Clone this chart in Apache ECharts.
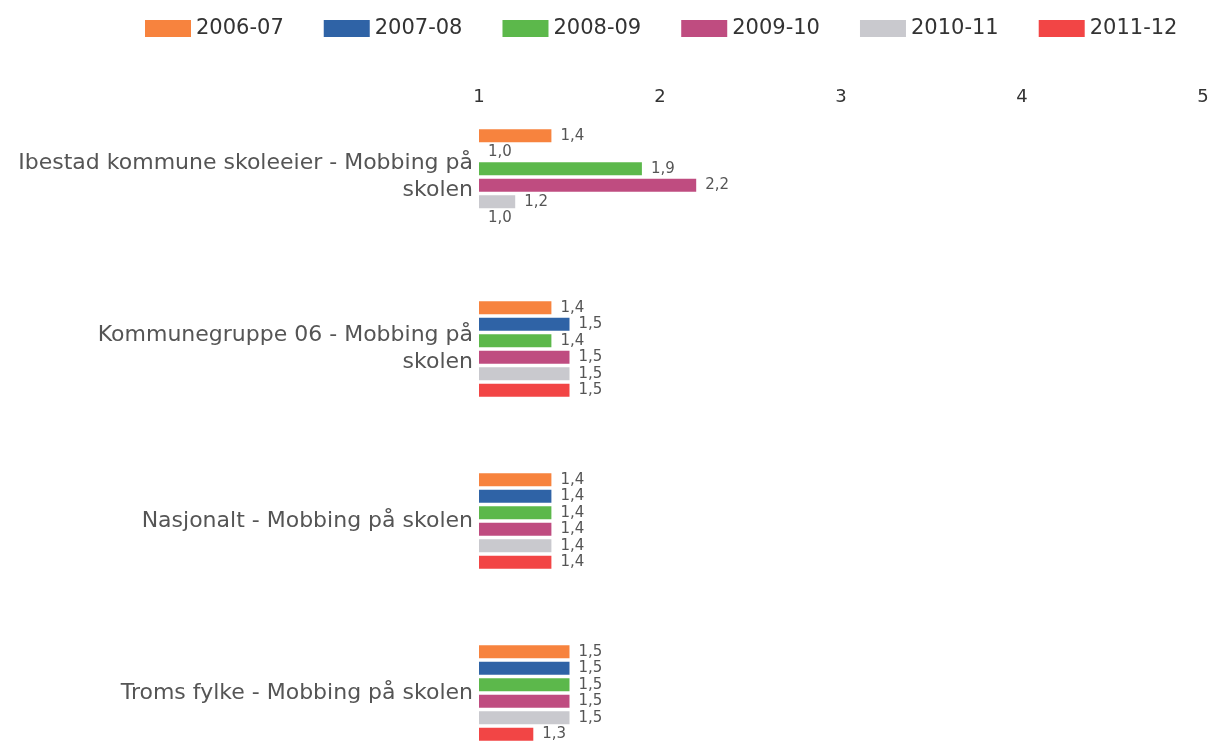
<!DOCTYPE html>
<html>
<head>
<meta charset="utf-8">
<script src="https://cdn.jsdelivr.net/npm/echarts@6/dist/echarts.min.js"></script>
<style>
  html, body { margin: 0; padding: 0; background: #fff; }
  #chart { width: 1213px; height: 743px; }
</style>
</head>
<body>
<div id="chart"></div>
<script>
const categories = [
  'Ibestad kommune skoleeier - Mobbing på\nskolen',
  'Kommunegruppe 06 - Mobbing på\nskolen',
  'Nasjonalt - Mobbing på skolen',
  'Troms fylke - Mobbing på skolen'
]
const seriesNames = ['2006-07', '2007-08', '2008-09', '2009-10', '2010-11', '2011-12']
const s2006 = [1.4, 1.4, 1.4, 1.5]
const s2007 = [1.0, 1.5, 1.4, 1.5]
const s2008 = [1.9, 1.4, 1.4, 1.5]
const s2009 = [2.2, 1.5, 1.4, 1.5]
const s2010 = [1.2, 1.5, 1.4, 1.5]
const s2011 = [1.0, 1.5, 1.4, 1.3]
const xTicks = [1, 2, 3, 4, 5]

const colors = ['#F7833E', '#2F63A6', '#5CB84B', '#BF4C80', '#C9C9CE', '#F24545']
const allValues = [s2006, s2007, s2008, s2009, s2010, s2011]

const chart = echarts.init(document.getElementById('chart'))

const option = {
  animation: false,
  color: colors,
  textStyle: { fontFamily: 'DejaVu Sans' },
  legend: {
    top: 13,
    left: 140,
    itemWidth: 46,
    itemHeight: 17,
    itemGap: 40,
    icon: 'rect',
    textStyle: { fontSize: 21, color: '#333', fontFamily: 'DejaVu Sans' },
    data: seriesNames
  },
  grid: {
    left: 479,
    right: 10,
    top: 91,
    height: 688,
    outerBoundsMode: 'none'
  },
  xAxis: {
    type: 'value',
    position: 'top',
    min: xTicks[0],
    max: xTicks[xTicks.length - 1],
    interval: 1,
    axisLine: { show: false },
    axisTick: { show: false },
    splitLine: { show: false },
    axisLabel: {
      color: '#333',
      fontSize: 18,
      margin: -15,
      formatter: (v) => String(v)
    }
  },
  yAxis: {
    type: 'category',
    inverse: true,
    data: categories,
    axisLine: { show: false },
    axisTick: { show: false },
    axisLabel: {
      color: '#555',
      fontSize: 22,
      lineHeight: 27,
      margin: 6,
      align: 'right'
    }
  },
  series: seriesNames.map((name, i) => ({
    name: name,
    type: 'bar',
    data: allValues[i],
    barWidth: 13,
    barGap: '27%',
    itemStyle: { color: colors[i] },
    label: {
      show: true,
      position: 'right',
      distance: 9,
      color: '#555',
      fontSize: 15,
      formatter: (p) => p.value.toFixed(1).replace('.', ',')
    }
  }))
}

chart.setOption(option)
</script>
</body>
</html>
